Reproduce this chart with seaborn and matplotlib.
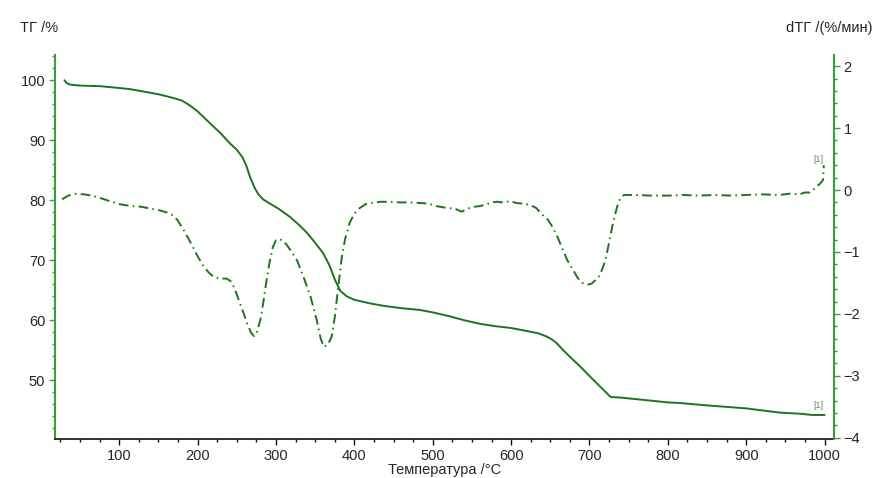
import numpy as np
import matplotlib
matplotlib.use('Agg')
import matplotlib.pyplot as plt
from matplotlib.ticker import MultipleLocator
import seaborn as sns

# TG curve (left axis, %)
temp_tg = [30, 33, 38, 50, 76, 100, 114, 140, 152, 170, 180, 190, 200, 208, 216, 229,
           241, 250, 257, 262, 267, 273, 278, 284, 290, 303, 318, 330, 340, 350, 360,
           368, 375, 382, 390, 400, 420, 437, 460, 484, 500, 520, 540, 560, 580, 600,
           620, 635, 645, 652, 658, 665, 675, 688, 700, 710, 720, 727, 740, 770, 800,
           815, 850, 900, 943, 970, 985, 1000]
tg = [100.0, 99.5, 99.25, 99.1, 99.0, 98.7, 98.5, 97.9, 97.6, 97.0, 96.6, 95.8, 94.8,
      93.8, 92.8, 91.2, 89.5, 88.4, 87.2, 85.8, 83.8, 82.0, 80.9, 80.1, 79.6, 78.6,
      77.2, 75.8, 74.5, 72.9, 71.2, 69.2, 66.8, 64.9, 64.0, 63.4, 62.8, 62.4, 62.0,
      61.7, 61.3, 60.7, 60.0, 59.4, 59.0, 58.7, 58.2, 57.8, 57.3, 56.8, 56.2, 55.2,
      53.9, 52.3, 50.7, 49.4, 48.1, 47.2, 47.1, 46.7, 46.3, 46.2, 45.8, 45.3, 44.6,
      44.4, 44.2, 44.2]

# DTG curve (right axis, %/min)
temp_dtg = [27, 35, 45, 55, 65, 76, 88, 101, 115, 128, 140, 152, 160, 167, 174, 182,
            188, 194, 200, 207, 214, 220, 228, 237, 242, 247, 254, 259, 263, 268, 272,
            276, 280, 284, 288, 292, 296, 300, 304, 309, 314, 320, 327, 335, 344, 352,
            357, 361, 366, 371, 375, 378, 381, 384, 388, 394, 400, 407, 414, 420, 433,
            445, 458, 470, 484, 495, 505, 518, 528, 537, 545, 552, 560, 569, 576, 582,
            590, 599, 607, 616, 624, 632, 640, 647, 653, 660, 666, 672, 679, 685, 691,
            697, 703, 709, 713, 717, 720, 725, 730, 735, 739, 744, 760, 777, 800, 820,
            840, 860, 880, 900, 920, 942, 955, 968, 975, 981, 987, 994, 998, 999]
dtg = [-0.15, -0.09, -0.06, -0.07, -0.09, -0.13, -0.18, -0.23, -0.26, -0.27, -0.30,
       -0.33, -0.36, -0.40, -0.48, -0.64, -0.78, -0.92, -1.07, -1.22, -1.33, -1.40,
       -1.43, -1.43, -1.47, -1.58, -1.83, -2.00, -2.15, -2.30, -2.36, -2.28, -2.10,
       -1.80, -1.45, -1.15, -0.92, -0.81, -0.79, -0.82, -0.89, -1.00, -1.14, -1.40,
       -1.72, -2.10, -2.40, -2.53, -2.50, -2.37, -2.05, -1.72, -1.40, -1.08, -0.80,
       -0.53, -0.38, -0.29, -0.23, -0.21, -0.19, -0.19, -0.20, -0.20, -0.21, -0.22,
       -0.26, -0.29, -0.30, -0.35, -0.30, -0.27, -0.26, -0.23, -0.20, -0.19, -0.20,
       -0.18, -0.21, -0.22, -0.24, -0.29, -0.40, -0.48, -0.60, -0.78, -0.97, -1.14,
       -1.29, -1.42, -1.50, -1.53, -1.51, -1.44, -1.38, -1.25, -1.15, -0.85, -0.53,
       -0.28, -0.14, -0.08, -0.08, -0.09, -0.09, -0.08, -0.09, -0.08, -0.09, -0.08,
       -0.07, -0.08, -0.06, -0.07, -0.04, -0.04, 0.02, 0.10, 0.16, 0.40]

line_color = '#1f731f'
spine_color = '#3d9a3d'

sns.set_style('white')
plt.rcParams['font.family'] = ['Liberation Sans', 'DejaVu Sans']

fig = plt.figure(figsize=(8.75, 4.78), dpi=100)
ax = fig.add_axes([55 / 875, 1 - 439 / 478, (834 - 55) / 875, (439 - 55) / 478])
ax2 = ax.twinx()

sns.lineplot(x=temp_tg, y=tg, ax=ax, color=line_color, linewidth=1.4, sort=False)
sns.lineplot(x=temp_dtg, y=dtg, ax=ax2, color=line_color, linewidth=1.4, sort=False,
             linestyle=(0, (5, 2.2, 0.8, 2.2)))

ax.set_xlim(18, 1012)
ax.set_ylim(40.2, 104.2)
ax2.set_ylim(-4.02, 2.18)

ax.xaxis.set_major_locator(MultipleLocator(100))
ax.xaxis.set_minor_locator(MultipleLocator(25))
ax.yaxis.set_major_locator(MultipleLocator(10))
ax.yaxis.set_minor_locator(MultipleLocator(2))
ax2.yaxis.set_major_locator(MultipleLocator(1))
ax2.yaxis.set_minor_locator(MultipleLocator(0.2))
ax.set_xticks([t for t in range(100, 1001, 100)])
ax.set_yticks([50, 60, 70, 80, 90, 100])

for a in (ax, ax2):
    a.spines['top'].set_visible(False)
ax.spines['right'].set_visible(False)
ax2.spines['left'].set_visible(False)
ax2.spines['bottom'].set_visible(False)
ax.spines['left'].set_color(spine_color)
ax.spines['left'].set_linewidth(1.5)
ax2.spines['right'].set_color(spine_color)
ax2.spines['right'].set_linewidth(1.5)
ax.spines['bottom'].set_color('#111111')
ax.spines['bottom'].set_linewidth(1.2)

ax.tick_params(axis='x', which='major', direction='out', length=4, width=1,
               color='#111111', labelsize=10.5, pad=3, bottom=True)
ax.tick_params(axis='x', which='minor', direction='out', length=2.5, width=1,
               color='#111111', bottom=True)
ax.tick_params(axis='y', which='major', direction='out', length=4, width=1,
               color=spine_color, labelsize=10.5, pad=3, left=True)
ax.tick_params(axis='y', which='minor', direction='out', length=2.5, width=1,
               color=spine_color, left=True)
ax2.tick_params(axis='y', which='major', direction='out', length=4, width=1,
                color=spine_color, labelsize=10.5, pad=3, right=True)
ax2.tick_params(axis='y', which='minor', direction='out', length=2.5, width=1,
                color=spine_color, right=True)

ax.grid(False)
ax2.grid(False)
ax.set_ylabel('')
ax2.set_ylabel('')
ax.set_xlabel('Температура /°C', fontsize=10.5, labelpad=0)

fig.text(20 / 875, 1 - 28 / 478, 'ТГ /%', fontsize=10.5, ha='left', va='center')
fig.text(872 / 875, 1 - 28 / 478, 'dТГ /(%/мин)', fontsize=10.5, ha='right', va='center')

ax.text(992, 45.0, '[1]', fontsize=6.5, color='#5d8c5d', ha='center', va='bottom')
ax2.text(992, 0.42, '[1]', fontsize=6.5, color='#5d8c5d', ha='center', va='bottom')

fig.savefig('out.png', dpi=100)
